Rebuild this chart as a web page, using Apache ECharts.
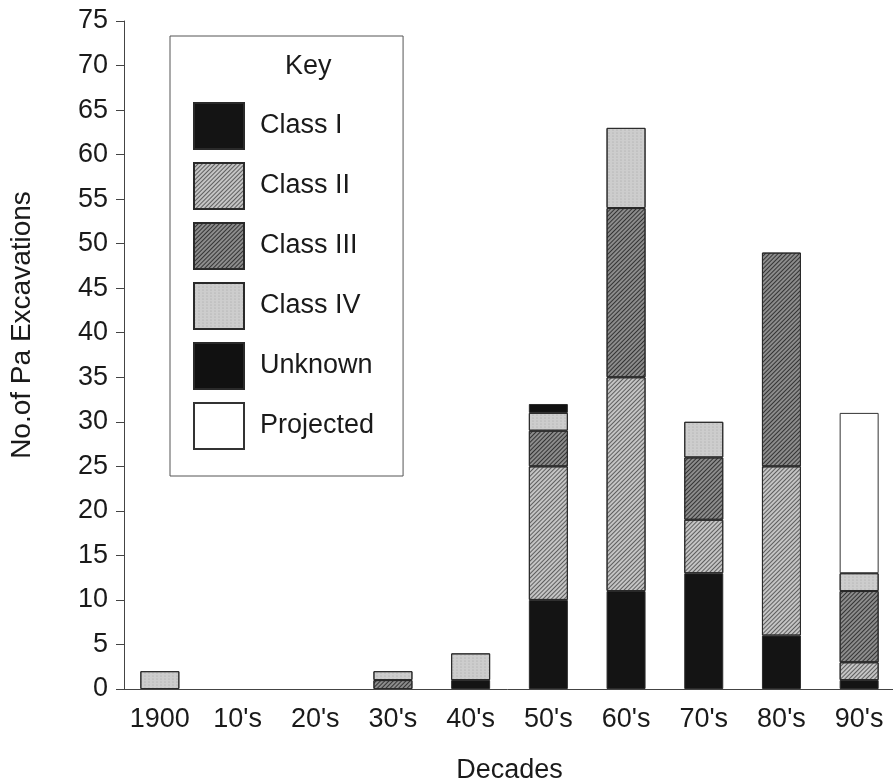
<!DOCTYPE html>
<html>
<head>
<meta charset="utf-8">
<script src="https://cdn.jsdelivr.net/npm/echarts@6/dist/echarts.min.js"></script>
<style>
  html, body { margin: 0; padding: 0; background: #fff; }
  #chart { width: 893px; height: 781px; }
</style>
</head>
<body>
<div id="chart"></div>
<script>
const decades = ['1900', "10's", "20's", "30's", "40's", "50's", "60's", "70's", "80's", "90's"];
const classI = [0, 0, 0, 0, 1, 10, 11, 13, 6, 1];
const classII = [0, 0, 0, 0, 0, 15, 24, 6, 19, 2];
const classIII = [0, 0, 0, 1, 0, 4, 19, 7, 24, 8];
const classIV = [2, 0, 0, 1, 3, 2, 9, 4, 0, 2];
const unknown = [0, 0, 0, 0, 0, 1, 0, 0, 0, 0];
const projected = [0, 0, 0, 0, 0, 0, 0, 0, 0, 18];

const FONT = 'Liberation Sans';
const chart = echarts.init(document.getElementById('chart'), null, { renderer: 'canvas' });

// hatch patterns for the greyscale fills
const hatch = (c) => ({
  symbol: 'rect', symbolSize: 1,
  dashArrayX: [1, 0], dashArrayY: [1, 2],
  rotation: -Math.PI / 4, color: c
});
const speckle = {
  symbol: 'circle', symbolSize: 0.6,
  dashArrayX: [2, 2], dashArrayY: [2, 1],
  color: 'rgba(90,90,90,0.35)'
};

function mk(name, values, color, decal, border) {
  return {
    name: name,
    type: 'bar',
    stack: 'all',
    barWidth: 39,
    data: values.map(v => (v === 0 ? '-' : v)),
    itemStyle: {
      color: color,
      borderColor: border || '#2a2a2a',
      borderWidth: 1,
      decal: decal
    }
  };
}

const option = {
  animation: false,
  backgroundColor: '#fff',
  textStyle: { fontFamily: FONT, color: '#1a1a1a' },
  grid: { left: 121, top: 21, width: 777, bottom: 92, outerBoundsMode: 'none', containLabel: false },
  title: {
    text: 'Key', left: 285, top: 53, padding: 0,
    textStyle: { fontFamily: FONT, fontSize: 27, fontWeight: 'normal', color: '#1a1a1a' }
  },
  legend: {
    orient: 'vertical',
    left: 170, top: 36,
    padding: [66, 29, 26, 23],
    icon: 'rect',
    itemWidth: 50, itemHeight: 46, itemGap: 12,
    borderColor: '#555', borderWidth: 1,
    textStyle: { fontFamily: FONT, fontSize: 27, color: '#1a1a1a', padding: [0, 0, 0, 11] },
    data: ['Class I', 'Class II', 'Class III', 'Class IV', 'Unknown', 'Projected']
  },
  xAxis: {
    type: 'category',
    data: decades,
    name: 'Decades',
    nameLocation: 'middle',
    nameGap: 68,
    nameTextStyle: { fontFamily: FONT, fontSize: 27, color: '#1a1a1a' },
    axisLine: { lineStyle: { color: '#444', width: 1 } },
    axisTick: { alignWithLabel: true, length: 8, lineStyle: { color: '#444' } },
    axisLabel: { fontFamily: FONT, fontSize: 27, color: '#1a1a1a', margin: 17, interval: 0 }
  },
  yAxis: {
    type: 'value',
    min: 0, max: 75, interval: 5,
    offset: -3,
    splitLine: { show: false },
    axisLine: { show: true, lineStyle: { color: '#444', width: 1 } },
    axisTick: { show: true, length: 8, lineStyle: { color: '#444' } },
    axisLabel: { fontFamily: FONT, fontSize: 27, color: '#1a1a1a', margin: 16 }
  },
  graphic: [{
    type: 'text',
    x: 22, y: 325,
    rotation: Math.PI / 2,
    style: {
      text: 'No.of Pa Excavations',
      font: '28px "Liberation Sans"',
      fill: '#1a1a1a',
      align: 'center',
      verticalAlign: 'middle'
    }
  }],
  series: [
    mk('Class I', classI, '#141414'),
    mk('Class II', classII, '#c4c4c4', hatch('rgba(60,60,60,0.75)')),
    mk('Class III', classIII, '#8c8c8c', hatch('rgba(30,30,30,0.8)')),
    mk('Class IV', classIV, '#cdcdcd', speckle),
    mk('Unknown', unknown, '#111111'),
    mk('Projected', projected, '#ffffff', null, '#333')
  ]
};
chart.setOption(option);
</script>
</body>
</html>
